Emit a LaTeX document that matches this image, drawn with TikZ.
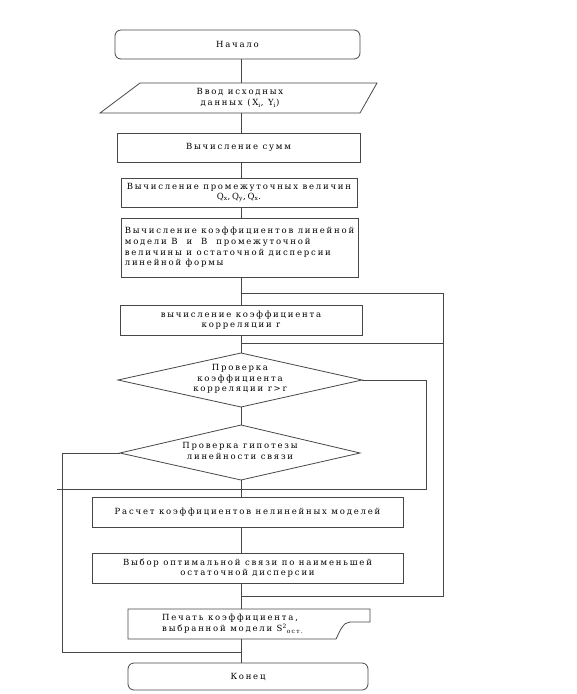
\documentclass[tikz,border=0pt]{standalone}
\usepackage{fontspec}
\setmainfont{DejaVu Serif}[LetterSpace=21]
\newcommand{\fs}{\fontsize{8.5}{10.7}\selectfont}
\colorlet{lc}{black!72}
\tikzset{
  ln/.style={draw=lc, line width=0.8pt},
  blk/.style={ln, inner sep=0pt, font=\fs, align=center},
  term/.style={blk, rounded corners=6pt},
  txt/.style={inner sep=0pt, font=\fs, align=center},
}
\begin{document}
\begin{tikzpicture}[x=1pt,y=-1pt]
\useasboundingbox (0,0) rectangle (577,694);
\coordinate (sp) at (241,0);
\coordinate (lx) at (62,0);
\coordinate (rx) at (443,0);
\coordinate (mx) at (426,0);

\node[term, minimum width=245, minimum height=29] (start) at (237.5,44.5) {Начало};

\draw[ln] (100,113) -- (140,83) -- (377,83) -- (360,113) -- cycle;
\node[txt, minimum width=200, minimum height=30] (inp) at (240,98) {Ввод исходных\\данных (X\textsubscript{i}, Y\textsubscript{i})};

\node[blk, minimum width=243, minimum height=29] (sum) at (238.5,147.5) {Вычисление сумм};
\node[blk, minimum width=236, minimum height=29] (inter) at (239,192.5) {Вычисление промежуточных величин\\Q\textsubscript{x},Q\textsubscript{y},Q\textsubscript{x}.};
\node[blk, align=left, minimum width=237, minimum height=59] (coef) at (239.5,247.5) {Вычисление коэффициентов линейной\\модели B\ \ и\ \ B\ \ промежуточной\\величины и остаточной дисперсии\\линейной формы};
\node[blk, minimum width=242, minimum height=30] (corr) at (241,320) {вычисление коэффициента\\корреляции r};

\draw[ln] (118,380) coordinate (d1w) -- (241,353) coordinate (d1n) -- (362,380) coordinate (d1e) -- (241,407) coordinate (d1s) -- cycle;
\node[txt] (d1) at (240,379) {Проверка\\коэффициента\\корреляции r>r};

\draw[ln] (120,453) coordinate (d2w) -- (241,425) coordinate (d2n) -- (360,453) coordinate (d2e) -- (241,480) coordinate (d2s) -- cycle;
\node[txt] (d2) at (240,451) {Проверка гипотезы\\линейности связи};

\node[blk, minimum width=311, minimum height=30] (calc) at (247.5,512) {Расчет коэффициентов нелинейных моделей};
\node[blk, minimum width=311, minimum height=30] (choice) at (247.5,568) {Выбор оптимальной связи по наименьшей\\остаточной дисперсии};

\draw[ln] (128,609) coordinate (pnw) -- (370,609) -- (370,622) -- (350,622) .. controls (343,622) and (340,631) .. (336,639) -- (128,639) -- cycle;
\node[txt, align=left, anchor=west] (prn) at (162,624) {Печать коэффициента,\\выбранной модели S\textsuperscript{2}\raisebox{-0.4ex}{\fontsize{6}{6}\selectfont ост.}};
\coordinate (prnn) at (241,609);
\coordinate (prns) at (241,639);

\node[term, minimum width=240, minimum height=27] (end) at (248,676.5) {Конец};

% main spine
\draw[ln] (start.south -| sp) -- (inp.north -| sp);
\draw[ln] (inp.south -| sp) -- (sum.north -| sp);
\draw[ln] (sum.south -| sp) -- (inter.north -| sp);
\draw[ln] (inter.south -| sp) -- (coef.north -| sp);
\draw[ln] (coef.south -| sp) -- (corr.north -| sp);
\draw[ln] (corr.south -| sp) -- (d1n);
\draw[ln] (d1s) -- (d2n);
\draw[ln] (d2s) -- (calc.north -| sp);
\draw[ln] (calc.south -| sp) -- (choice.north -| sp);
\draw[ln] (choice.south -| sp) -- (prnn);
\draw[ln] (prns) -- (end.north -| sp);

% right outer loop
\draw[ln] (sp |- 0,293) -- (rx |- 0,293) -- (rx |- 0,596) -- (sp |- 0,596);
\draw[ln] (sp |- 0,343) -- (rx |- 0,343);
% diamond 1 right branch
\draw[ln] (d1e) -- (mx |- d1e) -- (mx |- 0,489) -- (57,489);
% diamond 2 left branch
\draw[ln] (d2w) -- (lx |- d2w) -- (lx |- 0,652) -- (sp |- 0,652);
\end{tikzpicture}
\end{document}
